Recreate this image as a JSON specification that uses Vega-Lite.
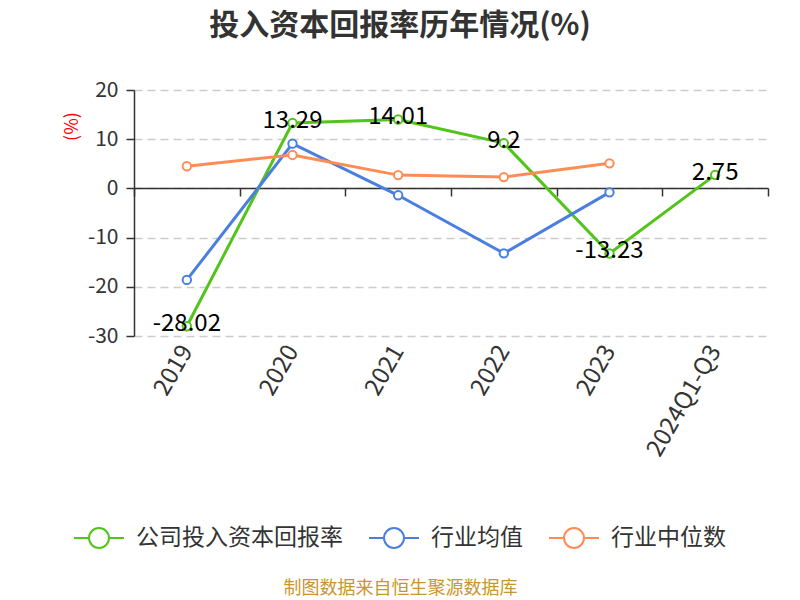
{
  "$schema": "https://vega.github.io/schema/vega-lite/v6.json",
  "autosize": "none",
  "width": 634,
  "height": 246,
  "padding": {"left": 134, "top": 90, "right": 32, "bottom": 264},
  "background": "white",
  "config": {
    "font": "Noto Sans CJK SC",
    "view": {"stroke": null},
    "locale": {
      "number": {"decimal": ".", "thousands": ",", "grouping": [3], "currency": ["", ""], "minus": "-"}
    }
  },
  "title": {
    "text": "投入资本回报率历年情况(%)",
    "fontSize": 30,
    "fontWeight": "bold",
    "color": "#333333",
    "anchor": "middle",
    "frame": "group",
    "dx": -51,
    "offset": 38
  },
  "data": {
    "values": [
      {"year": "2019", "series": "公司投入资本回报率", "value": -28.02},
      {"year": "2020", "series": "公司投入资本回报率", "value": 13.29},
      {"year": "2021", "series": "公司投入资本回报率", "value": 14.01},
      {"year": "2022", "series": "公司投入资本回报率", "value": 9.2},
      {"year": "2023", "series": "公司投入资本回报率", "value": -13.23},
      {"year": "2024Q1-Q3", "series": "公司投入资本回报率", "value": 2.75},
      {"year": "2019", "series": "行业均值", "value": -18.6},
      {"year": "2020", "series": "行业均值", "value": 9.1},
      {"year": "2021", "series": "行业均值", "value": -1.4},
      {"year": "2022", "series": "行业均值", "value": -13.2},
      {"year": "2023", "series": "行业均值", "value": -0.8},
      {"year": "2019", "series": "行业中位数", "value": 4.5},
      {"year": "2020", "series": "行业中位数", "value": 6.8},
      {"year": "2021", "series": "行业中位数", "value": 2.7},
      {"year": "2022", "series": "行业中位数", "value": 2.3},
      {"year": "2023", "series": "行业中位数", "value": 5.1}
    ]
  },
  "encoding": {
    "x": {
      "field": "year",
      "type": "ordinal",
      "sort": ["2019", "2020", "2021", "2022", "2023", "2024Q1-Q3"],
      "scale": {"type": "band", "paddingInner": 0, "paddingOuter": 0},
      "axis": {
        "orient": "bottom",
        "offset": -148,
        "domainColor": "#333333",
        "domainWidth": 1.5,
        "ticks": true,
        "tickBand": "extent",
        "tickColor": "#333333",
        "tickWidth": 1.5,
        "tickSize": 8,
        "grid": false,
        "labelAngle": -60,
        "labelAlign": "right",
        "labelBaseline": "middle",
        "labelPadding": 151,
        "labelFontSize": 24,
        "labelColor": "#333333",
        "title": "制图数据来自恒生聚源数据库",
        "titleColor": "#C8962D",
        "titleFontSize": 18,
        "titleFontWeight": "normal",
        "titleX": 266,
        "titleY": 400,
        "titleAlign": "center",
        "titleBaseline": "middle"
      }
    },
    "y": {
      "field": "value",
      "type": "quantitative",
      "scale": {"domain": [-30, 20], "nice": false, "zero": false},
      "axis": {
        "values": [-30, -20, -10, 0, 10, 20],
        "grid": true,
        "gridDash": [8, 5],
        "gridColor": "#cccccc",
        "gridWidth": 1.5,
        "domainColor": "#333333",
        "domainWidth": 1.5,
        "tickColor": "#333333",
        "tickWidth": 1.5,
        "tickSize": 8,
        "labelFontSize": 21,
        "labelColor": "#333333",
        "labelPadding": 8,
        "title": "(%)",
        "titleColor": "#ff0000",
        "titleFontSize": 18,
        "titleFontWeight": "normal",
        "titleX": -62,
        "titleY": 36,
        "titleAngle": -90,
        "titleAlign": "center",
        "titleBaseline": "middle"
      }
    }
  },
  "layer": [
    {
      "mark": {
        "type": "line",
        "strokeWidth": 3,
        "point": {"filled": false, "fill": "white", "size": 70, "strokeWidth": 2}
      },
      "encoding": {
        "color": {
          "field": "series",
          "type": "nominal",
          "scale": {
            "domain": ["公司投入资本回报率", "行业均值", "行业中位数"],
            "range": ["#52C41A", "#4A7FE0", "#FF8C55"]
          },
          "legend": {
            "orient": "none",
            "direction": "horizontal",
            "legendX": -61,
            "legendY": 422,
            "title": null,
            "symbolType": "M-1,0H-0.4M0.4,0H1M-0.4,0A0.4,0.4,0,1,1,0.4,0A0.4,0.4,0,1,1,-0.4,0",
            "symbolSize": 2500,
            "symbolStrokeWidth": 2,
            "symbolFillColor": "white",
            "labelFontSize": 23,
            "labelColor": "#333333",
            "labelOffset": 11,
            "labelLimit": 0,
            "columnPadding": 22
          }
        }
      }
    },
    {
      "transform": [{"filter": "datum.series === '公司投入资本回报率'"}],
      "mark": {"type": "text", "fontSize": 24, "color": "#000000", "dy": -2},
      "encoding": {
        "text": {"field": "value", "type": "quantitative", "format": "~g"}
      }
    }
  ]
}
